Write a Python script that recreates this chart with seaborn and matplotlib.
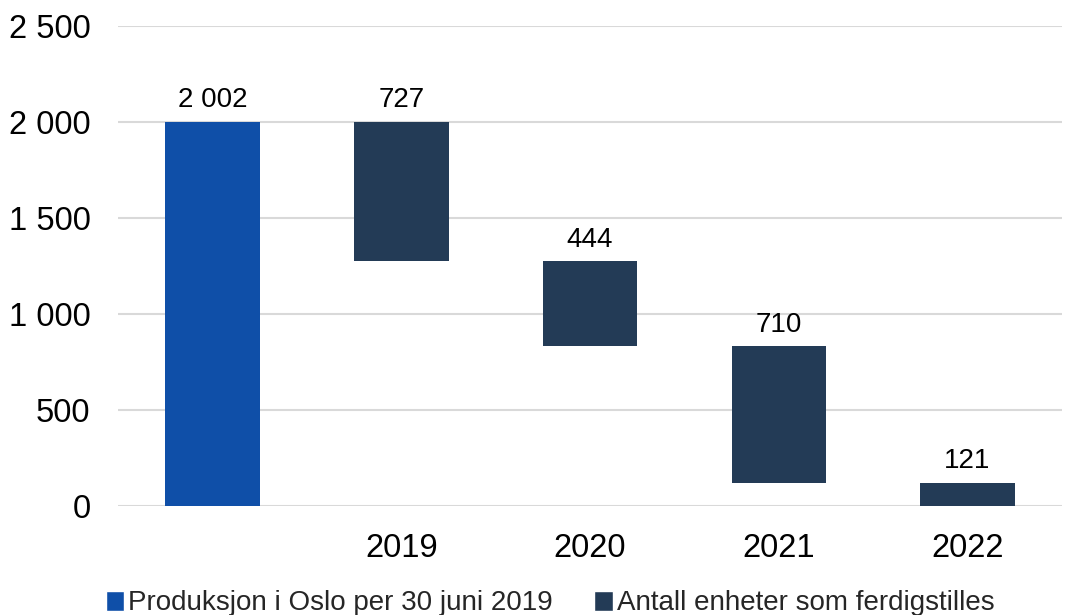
import matplotlib
matplotlib.use("Agg")
import matplotlib.pyplot as plt
from matplotlib.patches import Patch
import seaborn as sns
import pandas as pd

# Data
categories = ["", "2019", "2020", "2021", "2022"]
start_label = ""
start_value = 2002
years = ["2019", "2020", "2021", "2022"]
completed = [727, 444, 710, 121]
yticks = [0, 500, 1000, 1500, 2000, 2500]
legend_labels = ["Produksjon i Oslo per 30 juni 2019", "Antall enheter som ferdigstilles"]

blue = "#0F4FA8"
navy = "#233B56"

sns.set_theme(style="white")
plt.rcParams["font.family"] = ["Liberation Sans", "DejaVu Sans"]

# Floating bars: each year starts where the previous one ended
bases = []
level = start_value
for v in completed:
    level -= v
    bases.append(level)

fig = plt.figure(figsize=(10.66, 6.15), dpi=100)
ax = fig.add_axes([0.111, 0.177, 0.885, 0.781])

start_df = pd.DataFrame({"cat": [start_label], "val": [start_value]})
year_df = pd.DataFrame({"cat": years, "val": completed, "base": bases})

sns.barplot(data=start_df, x="cat", y="val", order=categories, color=blue,
            saturation=1, width=0.5, linewidth=0, ax=ax, zorder=3)
sns.barplot(data=year_df, x="cat", y="val", order=categories, color=navy,
            saturation=1, width=0.5, linewidth=0, bottom=year_df["base"].values,
            ax=ax, zorder=3)

# Value labels above each bar
ax.text(0, start_value + 45, f"{start_value:,}".replace(",", " "),
        ha="center", va="bottom", fontsize=20, color="black")
for i, (v, b) in enumerate(zip(completed, bases), start=1):
    ax.text(i, b + v + 45, f"{v:,}".replace(",", " "),
            ha="center", va="bottom", fontsize=20, color="black")

ax.set_ylim(0, 2500)
ax.set_xlim(-0.5, len(categories) - 0.5)
ax.set_yticks(yticks)
ax.set_yticklabels([f"{t:,}".replace(",", " ") for t in yticks], fontsize=23.5,
                   color="black")
ax.set_xticks(range(len(categories)))
ax.set_xticklabels(categories, fontsize=23.5, color="black")
ax.tick_params(axis="x", length=0, pad=19)
ax.tick_params(axis="y", length=0, pad=20)
ax.set_xlabel("")
ax.set_ylabel("")
ax.yaxis.grid(True, color="#D9D9D9", linewidth=1.5, zorder=0)
ax.set_axisbelow(True)
for s in ax.spines.values():
    s.set_visible(False)

handles = [Patch(facecolor=blue), Patch(facecolor=navy)]
fig.legend(handles, legend_labels, loc="lower center", ncol=2, frameon=False,
           bbox_to_anchor=(0.516, -0.043), fontsize=20, handlelength=0.65,
           handleheight=0.75, handletextpad=0.15, columnspacing=1.5)

fig.savefig("out.png", dpi=100)
